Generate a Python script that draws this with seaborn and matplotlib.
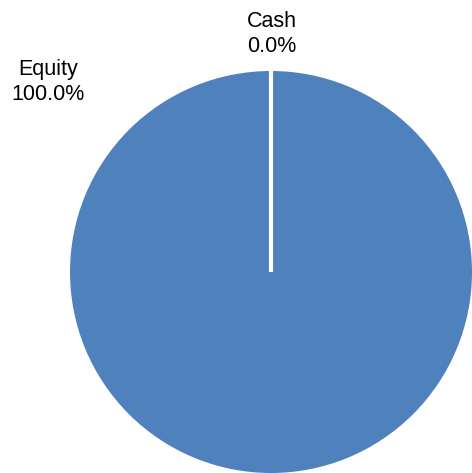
import matplotlib
matplotlib.use("Agg")
import matplotlib.pyplot as plt
import seaborn as sns

# Asset allocation
categories = ["Cash", "Equity"]
shares = [0.0, 100.0]
colors = ["#4F81BD", "#4F81BD"]

sns.set_theme(style="white")
plt.rcParams['font.family'] = ['Liberation Sans', 'DejaVu Sans']

W, H = 472, 473
fig = plt.figure(figsize=(W / 100, H / 100), dpi=100)
# pie spans x 70..472, y 71..473 (pixels)
ax = fig.add_axes([70 / W, 0 / H, 402 / W, 402 / H])

wedges, _ = ax.pie(shares, colors=colors, startangle=90, counterclock=False,
                   radius=1.0, wedgeprops=dict(linewidth=0))
# the zero-size slice shows as a white radial line
wedges[0].set_edgecolor("white")
wedges[0].set_linewidth(3)
wedges[0].set_zorder(5)

ax.set_xlim(-1, 1)
ax.set_ylim(-1, 1)
ax.set_aspect("auto")
ax.axis("off")

# data labels
label_pos = {"Cash": (272, 34), "Equity": (48, 82)}
for cat, val in zip(categories, shares):
    x, y = label_pos[cat]
    fig.text(x / W, 1 - y / H, f"{cat}\n{val:.1f}%", ha="center", va="center",
             fontsize=15.5, color="black", linespacing=1.2)

fig.savefig("out.png", dpi=100)
